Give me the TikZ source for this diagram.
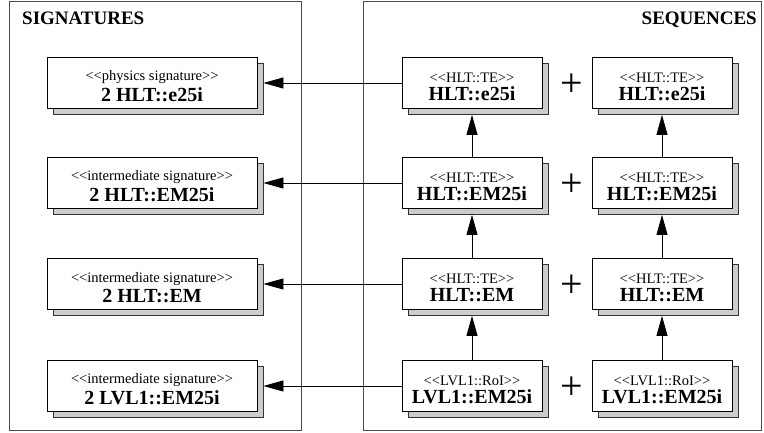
\documentclass[tikz,border=0pt]{standalone}
\usepackage{fontspec}
\setmainfont{Liberation Serif}
\usepackage{tikz}
\usetikzlibrary{arrows.meta, shadows}

\begin{document}
\begin{tikzpicture}[x=1pt, y=-1pt, >={Triangle[length=20pt, width=11pt]},
  sigbox/.style={rectangle, draw=black, fill=white, line width=0.8pt,
                 minimum width=210pt, minimum height=51pt, align=center,
                 inner sep=2pt,
                 copy shadow={shadow xshift=6pt, shadow yshift=-6pt,
                              fill=black!20, draw=black!80}},
  seqbox/.style={sigbox, minimum width=140pt},
  frame/.style={draw=black!70, line width=0.8pt},
  title/.style={font=\fontsize{19}{22}\selectfont\bfseries, inner sep=0pt},
  plus/.style={font=\fontsize{40}{40}\selectfont, inner sep=0pt},
  arr/.style={->, line width=0.8pt}
]
\newcommand{\stereo}[2]{{\rule{0pt}{17pt}\fontsize{14.5}{15}\selectfont
  <{}<#1>{}>}\\[3pt]%
  {\fontsize{20}{22}\selectfont\bfseries #2}}

\useasboundingbox (0,0) rectangle (764,433);

%% ---- Frames ----
\draw[frame] (9,1) rectangle (301,430);
\draw[frame] (363,1) rectangle (761,430);
\node[title, anchor=base west] (sigtitle) at (22,25) {SIGNATURES};
\node[title, anchor=base east] (seqtitle) at (757,25) {SEQUENCES};

%% ---- Signatures (left) ----
\node[sigbox] (sig1) at (152, 83) {\stereo{physics signature}{2 HLT::e25i}};
\node[sigbox] (sig2) at (152,183) {\stereo{intermediate signature}{2 HLT::EM25i}};
\node[sigbox] (sig3) at (152,284) {\stereo{intermediate signature}{2 HLT::EM}};
\node[sigbox] (sig4) at (152,386) {\stereo{intermediate signature}{2 LVL1::EM25i}};

%% ---- Sequences, first leg ----
\node[seqbox] (seqa1) at (472, 83) {\stereo{HLT::TE}{HLT::e25i}};
\node[seqbox] (seqa2) at (472,183) {\stereo{HLT::TE}{HLT::EM25i}};
\node[seqbox] (seqa3) at (472,284) {\stereo{HLT::TE}{HLT::EM}};
\node[seqbox] (seqa4) at (472,386) {\stereo{LVL1::RoI}{LVL1::EM25i}};

%% ---- Sequences, second leg ----
\node[seqbox] (seqb1) at (662, 83) {\stereo{HLT::TE}{HLT::e25i}};
\node[seqbox] (seqb2) at (662,183) {\stereo{HLT::TE}{HLT::EM25i}};
\node[seqbox] (seqb3) at (662,284) {\stereo{HLT::TE}{HLT::EM}};
\node[seqbox] (seqb4) at (662,386) {\stereo{LVL1::RoI}{LVL1::EM25i}};

%% ---- Plus signs ----
\node[plus] (plus1) at (572, 85) {+};
\node[plus] (plus2) at (572,185) {+};
\node[plus] (plus3) at (572,286) {+};
\node[plus] (plus4) at (572,388) {+};

%% ---- Sequence -> signature arrows ----
\draw[arr] (seqa1.west) -- ([xshift=6pt]sig1.east);
\draw[arr] (seqa2.west) -- ([xshift=6pt]sig2.east);
\draw[arr] (seqa3.west) -- ([xshift=6pt]sig3.east);
\draw[arr] (seqa4.west) -- ([xshift=6pt]sig4.east);

%% ---- Upward steps within each leg ----
\draw[arr] (seqa4.north) -- ([yshift=-6pt]seqa3.south);
\draw[arr] (seqa3.north) -- ([yshift=-6pt]seqa2.south);
\draw[arr] (seqa2.north) -- ([yshift=-6pt]seqa1.south);
\draw[arr] (seqb4.north) -- ([yshift=-6pt]seqb3.south);
\draw[arr] (seqb3.north) -- ([yshift=-6pt]seqb2.south);
\draw[arr] (seqb2.north) -- ([yshift=-6pt]seqb1.south);

\end{tikzpicture}
\end{document}
